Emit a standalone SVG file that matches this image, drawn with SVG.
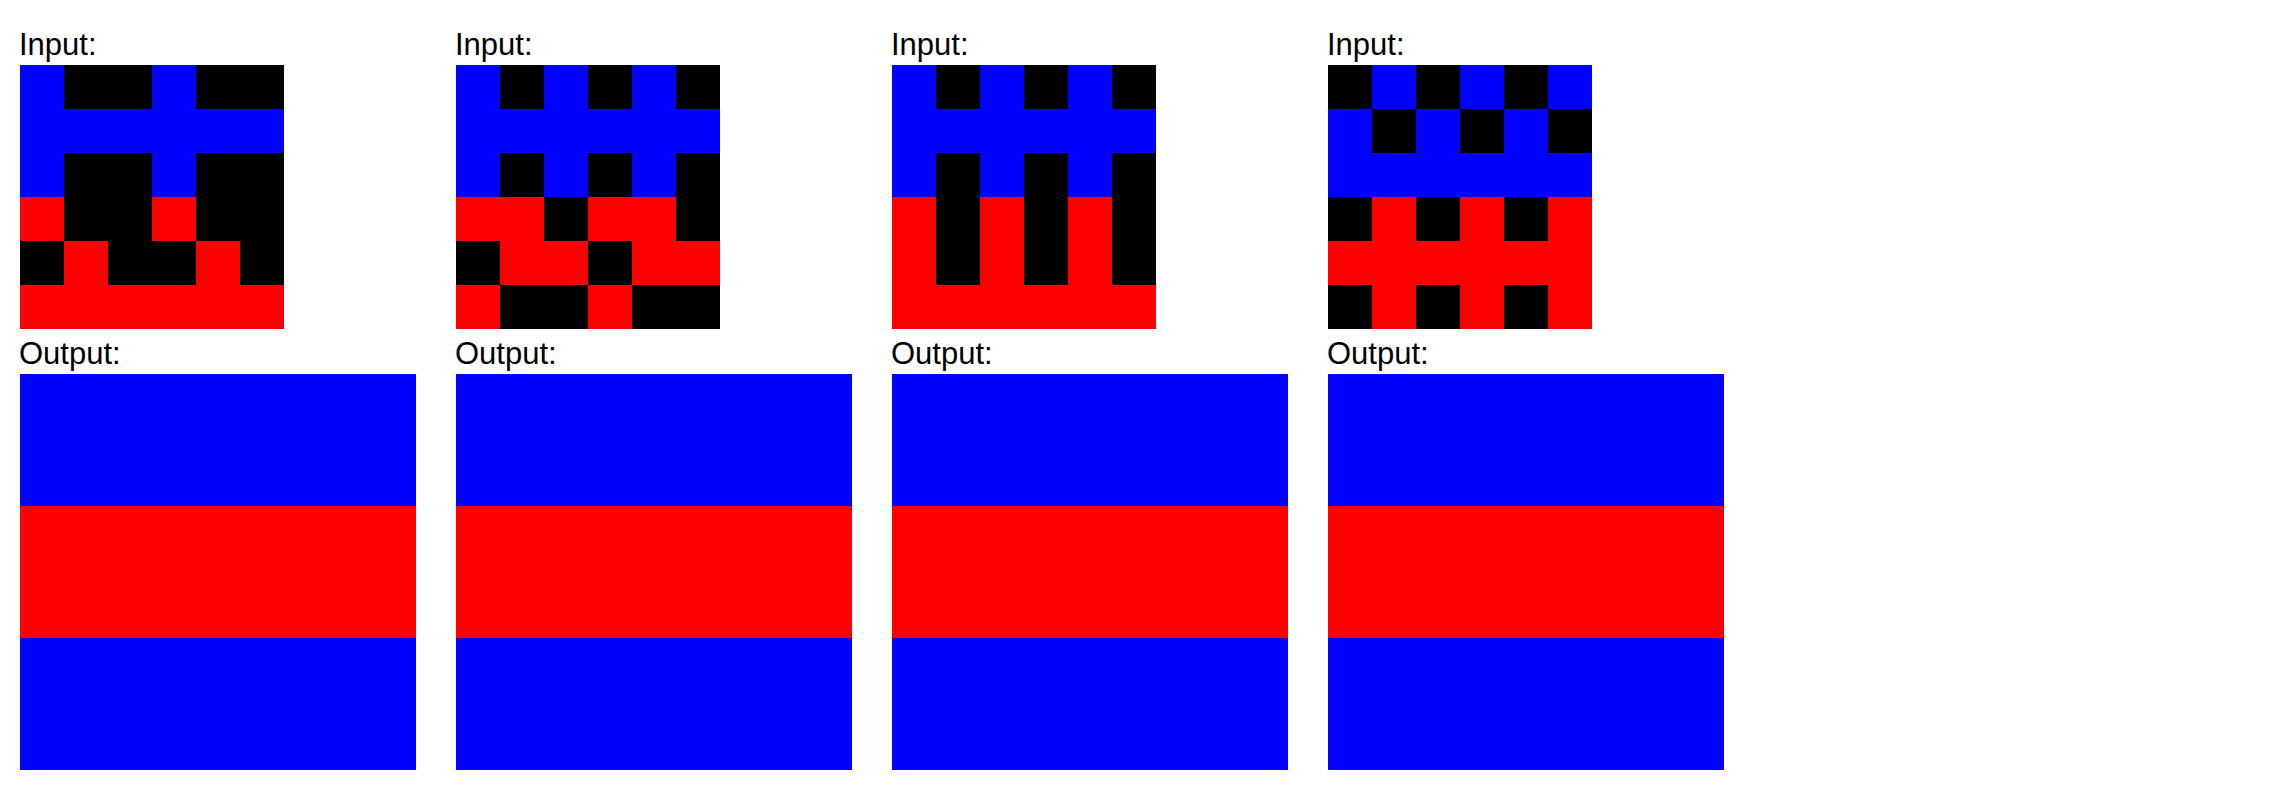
<svg xmlns="http://www.w3.org/2000/svg" width="2272" height="790" viewBox="0 0 2272 790">
<style>
.lbl{font-family:"Liberation Sans",Arial,sans-serif;font-size:31px;fill:#000}
.k{fill:#000000}
.b{fill:#0000ff}
.r{fill:#ff0000}
</style>
<rect x="0" y="0" width="2272" height="790" fill="#ffffff"/>
<g id="pair1">
<text class="lbl" x="19" y="55">Input:</text>
<g id="input1" transform="translate(20,65)">
<rect class="k" x="0" y="0" width="264" height="264"/>
<rect class="b" x="0" y="0" width="44" height="132"/>
<rect class="b" x="132" y="0" width="44" height="132"/>
<rect class="b" x="0" y="44" width="264" height="44"/>
<rect class="r" x="0" y="132" width="44" height="44"/>
<rect class="r" x="132" y="132" width="44" height="44"/>
<rect class="r" x="44" y="176" width="44" height="44"/>
<rect class="r" x="176" y="176" width="44" height="44"/>
<rect class="r" x="0" y="220" width="264" height="44"/>
</g>
<text class="lbl" x="19" y="364">Output:</text>
<g id="output1" transform="translate(20,374)">
<rect class="b" x="0" y="0" width="396" height="132"/>
<rect class="r" x="0" y="132" width="396" height="132"/>
<rect class="b" x="0" y="264" width="396" height="132"/>
</g>
</g>
<g id="pair2">
<text class="lbl" x="455" y="55">Input:</text>
<g id="input2" transform="translate(456,65)">
<rect class="k" x="0" y="0" width="264" height="264"/>
<rect class="b" x="0" y="0" width="44" height="132"/>
<rect class="b" x="88" y="0" width="44" height="132"/>
<rect class="b" x="176" y="0" width="44" height="132"/>
<rect class="b" x="0" y="44" width="264" height="44"/>
<rect class="r" x="0" y="132" width="88" height="44"/>
<rect class="r" x="132" y="132" width="88" height="44"/>
<rect class="r" x="44" y="176" width="88" height="44"/>
<rect class="r" x="176" y="176" width="88" height="44"/>
<rect class="r" x="0" y="220" width="44" height="44"/>
<rect class="r" x="132" y="220" width="44" height="44"/>
</g>
<text class="lbl" x="455" y="364">Output:</text>
<g id="output2" transform="translate(456,374)">
<rect class="b" x="0" y="0" width="396" height="132"/>
<rect class="r" x="0" y="132" width="396" height="132"/>
<rect class="b" x="0" y="264" width="396" height="132"/>
</g>
</g>
<g id="pair3">
<text class="lbl" x="891" y="55">Input:</text>
<g id="input3" transform="translate(892,65)">
<rect class="k" x="0" y="0" width="264" height="264"/>
<rect class="b" x="0" y="0" width="44" height="132"/>
<rect class="b" x="88" y="0" width="44" height="132"/>
<rect class="b" x="176" y="0" width="44" height="132"/>
<rect class="b" x="0" y="44" width="264" height="44"/>
<rect class="r" x="0" y="132" width="44" height="132"/>
<rect class="r" x="88" y="132" width="44" height="132"/>
<rect class="r" x="176" y="132" width="44" height="132"/>
<rect class="r" x="0" y="220" width="264" height="44"/>
</g>
<text class="lbl" x="891" y="364">Output:</text>
<g id="output3" transform="translate(892,374)">
<rect class="b" x="0" y="0" width="396" height="132"/>
<rect class="r" x="0" y="132" width="396" height="132"/>
<rect class="b" x="0" y="264" width="396" height="132"/>
</g>
</g>
<g id="pair4">
<text class="lbl" x="1327" y="55">Input:</text>
<g id="input4" transform="translate(1328,65)">
<rect class="k" x="0" y="0" width="264" height="264"/>
<rect class="b" x="44" y="0" width="44" height="44"/>
<rect class="b" x="132" y="0" width="44" height="44"/>
<rect class="b" x="220" y="0" width="44" height="44"/>
<rect class="b" x="0" y="44" width="44" height="44"/>
<rect class="b" x="88" y="44" width="44" height="44"/>
<rect class="b" x="176" y="44" width="44" height="44"/>
<rect class="b" x="0" y="88" width="264" height="44"/>
<rect class="r" x="44" y="132" width="44" height="44"/>
<rect class="r" x="132" y="132" width="44" height="44"/>
<rect class="r" x="220" y="132" width="44" height="44"/>
<rect class="r" x="0" y="176" width="264" height="44"/>
<rect class="r" x="44" y="220" width="44" height="44"/>
<rect class="r" x="132" y="220" width="44" height="44"/>
<rect class="r" x="220" y="220" width="44" height="44"/>
</g>
<text class="lbl" x="1327" y="364">Output:</text>
<g id="output4" transform="translate(1328,374)">
<rect class="b" x="0" y="0" width="396" height="132"/>
<rect class="r" x="0" y="132" width="396" height="132"/>
<rect class="b" x="0" y="264" width="396" height="132"/>
</g>
</g>
<g id="connectors"/>
</svg>
